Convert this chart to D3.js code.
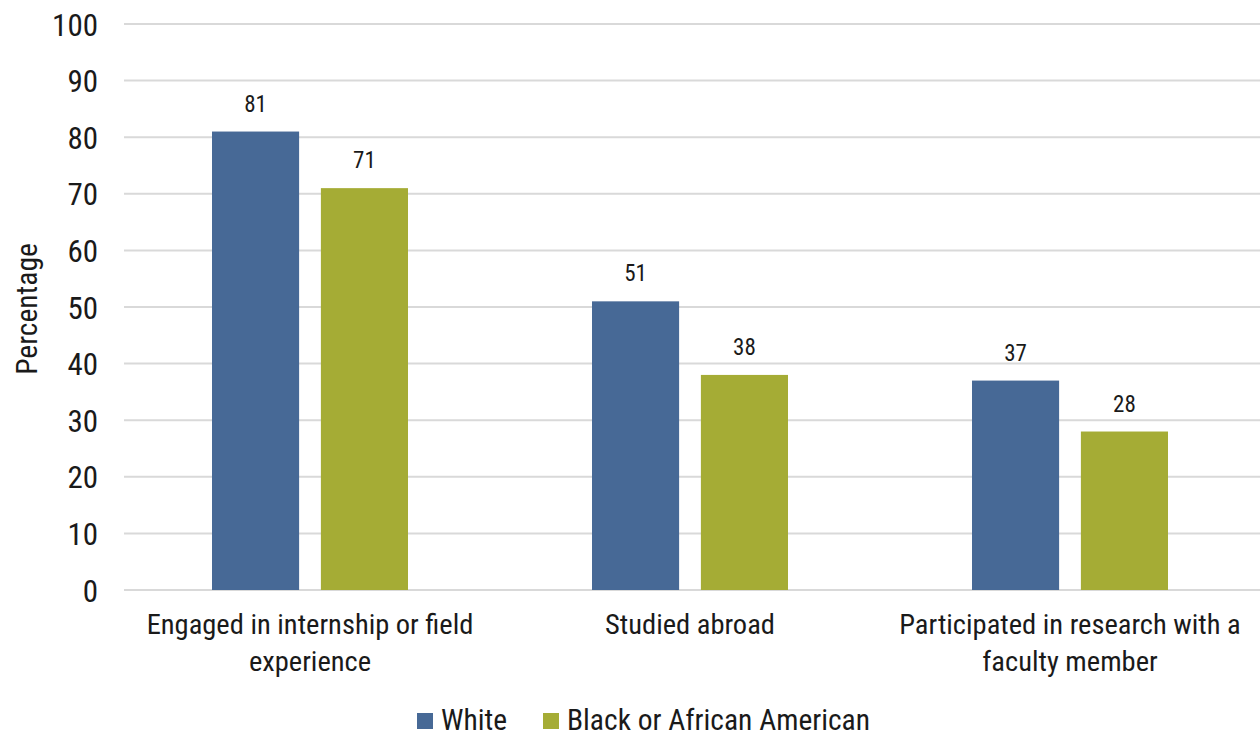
<!DOCTYPE html>
<html><head><meta charset="utf-8">
<script src="https://cdn.jsdelivr.net/npm/d3@7"></script>
<style>
body{margin:0;background:#fff;}
svg text{font-family:"Liberation Sans Narrow","Roboto Condensed","Arial Narrow",sans-serif;fill:#1a1a1a;}
</style></head>
<body><svg id="c" width="1260" height="736"></svg>
<script>
const categories = ["Engaged in internship or field experience","Studied abroad","Participated in research with a faculty member"];
const seriesNames = ["White","Black or African American"];
const whiteValues = [81,51,37];
const blackValues = [71,38,28];
const yTicks = [0,10,20,30,40,50,60,70,80,90,100];
const colors = ["#476996","#a5ac35"];

const svg = d3.select("#c");
const y = d3.scaleLinear().domain([0,100]).range([590,24]);
const x0 = d3.scaleBand().domain(categories).range([120,1260]).padding(0);
const x1 = d3.scaleBand().domain(seriesNames).range([92,288]).paddingInner(0.2).paddingOuter(0);
const color = d3.scaleOrdinal().domain(seriesNames).range(colors);

// gridlines
svg.append("g").selectAll("line").data(yTicks).join("line")
  .attr("x1",124).attr("x2",1260).attr("y1",d=>y(d)).attr("y2",d=>y(d))
  .attr("stroke","#d9d9d9").attr("stroke-width",2);

// y axis labels
const yAxis = d3.axisLeft(y).tickValues(yTicks).tickSize(0).tickPadding(0);
const ga = svg.append("g").attr("transform","translate(98,0)").call(yAxis);
ga.select(".domain").remove();
ga.selectAll("text").attr("font-size",31).attr("dy","0.36em").style("font-family",null).style("fill","#1a1a1a");

svg.append("text").attr("transform","translate(37,309) rotate(-90)")
  .attr("text-anchor","middle").attr("font-size",29.5).text("Percentage");

const data = categories.map((c,i)=>({cat:c, vals:[whiteValues[i],blackValues[i]]}));
const groups = svg.append("g").selectAll("g").data(data).join("g")
  .attr("transform",d=>`translate(${x0(d.cat)},0)`);
groups.selectAll("rect").data(d=>d.vals.map((v,j)=>({s:seriesNames[j],v}))).join("rect")
  .attr("x",d=>x1(d.s)).attr("width",x1.bandwidth())
  .attr("y",d=>y(d.v)).attr("height",d=>y(0)-y(d.v))
  .attr("fill",d=>color(d.s));
groups.selectAll("text.lbl").data(d=>d.vals.map((v,j)=>({s:seriesNames[j],v}))).join("text")
  .attr("class","lbl").attr("x",d=>x1(d.s)+x1.bandwidth()/2).attr("y",d=>y(d.v)-20)
  .attr("text-anchor","middle").attr("font-size",23).text(d=>d.v);

// category labels with wrapping
function wrapLines(text,maxW,size){
  const words=text.split(" ");const lines=[];let cur="";
  const tmp=svg.append("text").attr("font-size",size);
  words.forEach(w=>{const t=cur?cur+" "+w:w;tmp.text(t);
    if(tmp.node().getComputedTextLength()>maxW && cur){lines.push(cur);cur=w;}else cur=t;});
  if(cur)lines.push(cur);tmp.remove();return lines;
}
categories.forEach(c=>{
  const lines=wrapLines(c,355,28.5);
  const t=svg.append("text").attr("text-anchor","middle").attr("font-size",28.5)
    .attr("x",x0(c)+x0.bandwidth()/2);
  lines.forEach((l,i)=>t.append("tspan").attr("x",x0(c)+x0.bandwidth()/2).attr("y",634+i*37).text(l));
});

// legend
const leg = svg.append("g");
const legX=[417,543];
seriesNames.forEach((s,i)=>{
  leg.append("rect").attr("x",legX[i]).attr("y",713).attr("width",16).attr("height",16).attr("fill",color(s));
  leg.append("text").attr("x",legX[i]+24).attr("y",730).attr("font-size",29.5).text(s);
});
</script></body></html>
